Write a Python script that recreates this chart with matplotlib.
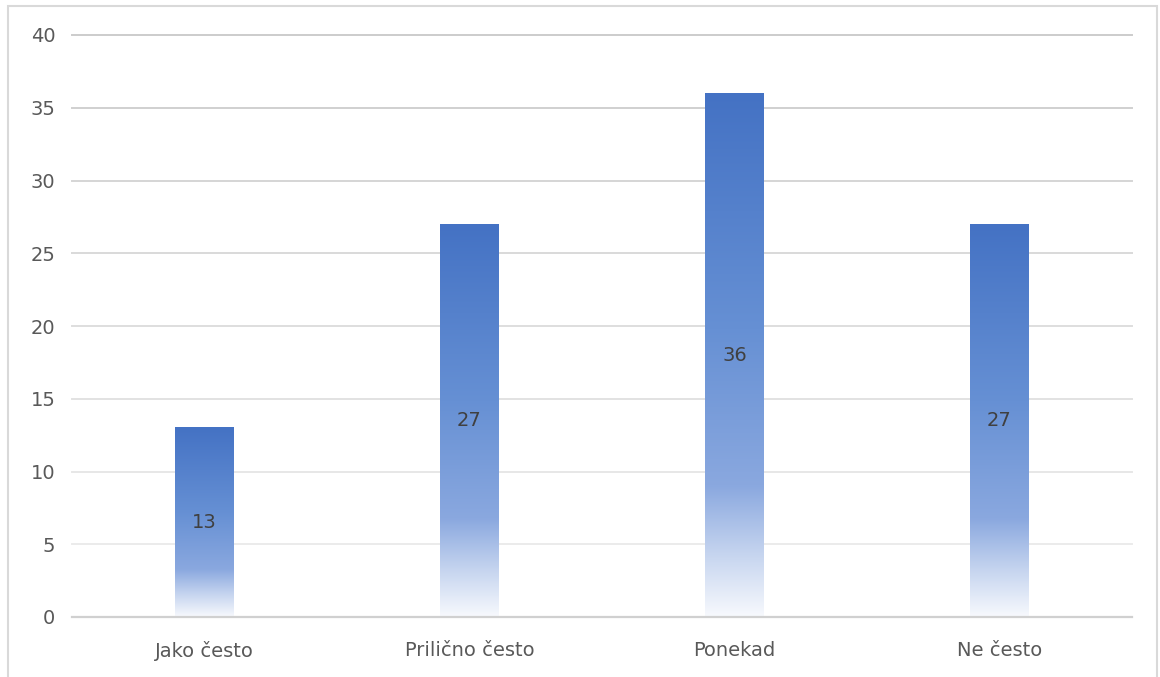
import numpy as np
import matplotlib.pyplot as plt
from matplotlib.colors import LinearSegmentedColormap
from matplotlib.patches import Rectangle

categories = ['Jako često', 'Prilično često', 'Ponekad', 'Ne često']
values = [13, 27, 36, 27]
yticks = [0, 5, 10, 15, 20, 25, 30, 35, 40]

W, H = 1160, 677
fig = plt.figure(figsize=(W / 100, H / 100), dpi=100)
ax = fig.add_axes([72 / W, 1 - 617 / H, (1132 - 72) / W, (617 - 35) / H])

# gradient from blue (top) to almost white (bottom), per bar
grad = LinearSegmentedColormap.from_list('g', [
    (0.0, '#4472c4'),
    (0.45, '#6690d4'),
    (0.75, '#8aa8df'),
    (0.88, '#c5d4ef'),
    (1.0, '#f7f9fd')])
img = np.linspace(0, 1, 256).reshape(-1, 1)

bw = 0.22
x = np.arange(len(categories))
for xi, v in zip(x, values):
    ax.imshow(img, cmap=grad, aspect='auto', interpolation='bilinear',
              extent=[xi - bw / 2, xi + bw / 2, 0, v], zorder=3)
    ax.text(xi, v / 2, str(v), ha='center', va='center', fontsize=14,
            color='#404040', zorder=4)

ax.set_xlim(-0.5, len(categories) - 0.5)
ax.set_ylim(0, 40)

# gridlines fading towards the bottom
for t in yticks[1:]:
    g = 0.94 - 0.14 * (t / 40)
    ax.axhline(t, color=(g, g, g), lw=1.4, zorder=1, clip_on=False)
ax.axhline(0, color='#d0d0d0', lw=1.6, zorder=5, clip_on=False)

ax.set_yticks(yticks)
ax.set_xticks(x)
ax.set_xticklabels(categories)
ax.tick_params(length=0, labelsize=14, colors='#595959')
ax.tick_params(axis='y', pad=12)
ax.tick_params(axis='x', pad=17)
for s in ax.spines.values():
    s.set_visible(False)

fig.patches.append(Rectangle((8 / W, -0.01), (1157 - 8) / W, 1.01 - 6 / H,
                             transform=fig.transFigure, fill=False,
                             edgecolor='#d9d9d9', lw=1.5))

fig.savefig('out.png', dpi=100)
